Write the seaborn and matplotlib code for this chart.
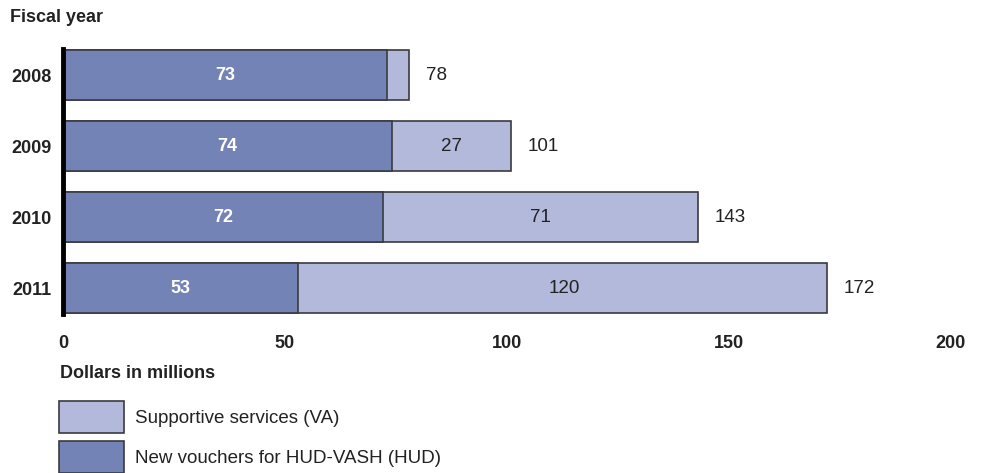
import matplotlib
matplotlib.use("Agg")
import matplotlib.pyplot as plt
import seaborn as sns
import pandas as pd
from matplotlib.patches import Patch

years = ["2008", "2009", "2010", "2011"]
hud_vouchers = [73, 74, 72, 53]
va_services = [5, 27, 71, 120]
totals = [78, 101, 143, 172]
xticks = [0, 50, 100, 150, 200]

dark = "#7483b6"
light = "#b3b9da"
edge = "#3a3a40"

sns.set_theme(style="white")
plt.rcParams["font.family"] = ["Liberation Sans", "DejaVu Sans"]

df = pd.DataFrame({"year": years, "hud": hud_vouchers, "va": va_services, "total": totals})

fig = plt.figure(figsize=(9.87, 4.73), dpi=100)
W, H = 987, 473
ax = fig.add_axes([63 / W, 1 - 323.5 / H, (951 - 63) / W, (323.5 - 39.5) / H])

sns.barplot(data=df, x="total", y="year", orient="h", color=light, width=0.7,
            edgecolor=edge, linewidth=1.2, ax=ax, saturation=1)
sns.barplot(data=df, x="hud", y="year", orient="h", color=dark, width=0.7,
            edgecolor=edge, linewidth=1.2, ax=ax, saturation=1)

ax.set_xlim(0, 200)
ax.set_ylim(3.5, -0.5)
ax.set_xticks(xticks)
ax.set_xticklabels([str(t) for t in xticks], fontsize=13, fontweight="bold")
ax.set_yticklabels(years, fontsize=13, fontweight="bold")
ax.tick_params(axis="both", length=0, colors="#222222")
ax.tick_params(axis="x", pad=8)
ax.tick_params(axis="y", pad=8)
ax.set_xlabel("")
ax.set_ylabel("")
for s in ["top", "right", "bottom"]:
    ax.spines[s].set_visible(False)
ax.spines["left"].set_linewidth(3.5)
ax.spines["left"].set_color("black")
ax.spines["left"].set_bounds(-0.37, 3.37)

for i, (h, v, t) in enumerate(zip(hud_vouchers, va_services, totals)):
    ax.text(h / 2, i, str(h), ha="center", va="center", color="white",
            fontsize=13, fontweight="bold")
    if v >= 10:
        ax.text(h + v / 2, i, str(v), ha="center", va="center", color="#222222",
                fontsize=13.5)
    ax.annotate(str(t), (t, i), xytext=(12, 0), textcoords="offset points",
                ha="left", va="center", color="#222222", fontsize=13.5)

fig.text(10 / W, 1 - 18 / H, "Fiscal year", fontsize=13, fontweight="bold",
         ha="left", va="center", color="#222222")
fig.text(60 / W, 1 - 374 / H, "Dollars in millions", fontsize=13, fontweight="bold",
         ha="left", va="center", color="#222222")

handles = [Patch(facecolor=light, edgecolor=edge, linewidth=1.2),
           Patch(facecolor=dark, edgecolor=edge, linewidth=1.2)]
labels = ["Supportive services (VA)", "New vouchers for HUD-VASH (HUD)"]
fig.legend(handles, labels, loc="upper left", bbox_to_anchor=(59 / W, 1 - 401 / H),
           frameon=False, fontsize=13.5, handlelength=3.47, handleheight=2.25,
           labelspacing=0.43, borderpad=0, borderaxespad=0, handletextpad=0.59,
           labelcolor="#222222")

fig.savefig("out.png", dpi=100)
